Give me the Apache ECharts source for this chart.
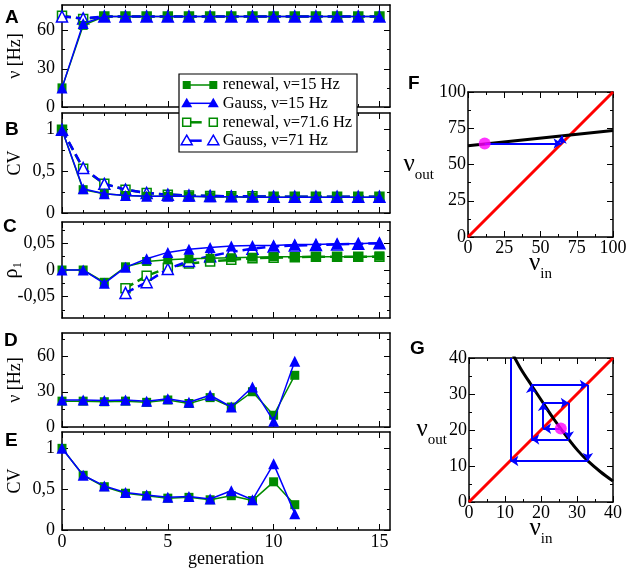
<!DOCTYPE html>
<html><head><meta charset="utf-8">
<script src="https://cdn.jsdelivr.net/npm/echarts@6/dist/echarts.min.js"></script>
<style>html,body{margin:0;padding:0;background:#fff}#c{width:630px;height:571px}</style>
</head><body><div id="c"></div>
<script>
// ---------------- data ----------------
const generations = [0,1,2,3,4,5,6,7,8,9,10,11,12,13,14,15];
const generationsShort = [0,1,2,3,4,5,6,7,8,9,10,11];

// Panel A: rate [Hz]
const rateRenewal15 = [15, 64, 71, 71, 71, 71, 71, 71, 71, 71, 71, 71, 71, 71, 71, 71];
const rateGauss15   = [15, 65.5, 71, 71, 71, 71, 71, 71, 71, 71, 71, 71, 71, 71, 71, 71];
const rateRenewal71 = [71.6, 69, 71, 71, 71, 71, 71, 71, 71, 71, 71, 71, 71, 71, 71, 71];
const rateGauss71   = [71, 69.5, 71, 71, 71, 71, 71, 71, 71, 71, 71, 71, 71, 71, 71, 71];

// Panel B: CV
const cvRenewal15 = [1, 0.28, 0.23, 0.21, 0.2, 0.2, 0.2, 0.195, 0.195, 0.19, 0.19, 0.19, 0.19, 0.19, 0.19, 0.19];
const cvGauss15   = [1, 0.29, 0.23, 0.21, 0.2, 0.2, 0.2, 0.195, 0.195, 0.19, 0.19, 0.19, 0.19, 0.19, 0.19, 0.19];
const cvRenewal71 = [1, 0.53, 0.35, 0.28, 0.24, 0.22, 0.21, 0.205, 0.2, 0.2, 0.195, 0.195, 0.195, 0.195, 0.195, 0.195];
const cvGauss71   = [1, 0.54, 0.35, 0.28, 0.24, 0.22, 0.21, 0.205, 0.2, 0.2, 0.195, 0.195, 0.195, 0.195, 0.195, 0.195];

// Panel C: rho_1
const rhoRenewal15 = [0, 0, -0.023, 0.006, 0.016, 0.019, 0.021, 0.022, 0.023, 0.024, 0.025, 0.025, 0.025, 0.025, 0.025, 0.026];
const rhoGauss15   = [0, 0, -0.025, 0.005, 0.021, 0.033, 0.039, 0.042, 0.045, 0.046, 0.046, 0.048, 0.048, 0.049, 0.049, 0.051];
const rhoRenewal71 = [null, null, null, -0.034, -0.011, 0.004, 0.012, 0.016, 0.019, 0.022, 0.023, 0.024, 0.025, 0.025, 0.025, 0.025];
const rhoGauss71   = [null, null, null, -0.043, -0.023, 0.002, 0.017, 0.026, 0.034, 0.04, 0.044, 0.046, 0.047, 0.048, 0.049, 0.05];

// Panel D: rate [Hz]
const rateDRenewal = [22, 22, 21.5, 22, 21, 23, 20, 25, 17, 30, 10, 44];
const rateDGauss   = [23, 23, 22.5, 23, 22, 24, 21, 27, 17, 34, 5, 56];

// Panel E: CV
const cvERenewal = [1, 0.67, 0.53, 0.45, 0.42, 0.39, 0.4, 0.37, 0.42, 0.36, 0.59, 0.31];
const cvEGauss   = [1, 0.67, 0.54, 0.46, 0.43, 0.4, 0.41, 0.38, 0.48, 0.37, 0.81, 0.2];

// Panel F: map nu_out(nu_in)
const diagF = [[0, 0], [100, 100]];
const transferF = [[0, 63], [100, 73.5]];
const cobwebF = [[11.5, 64.5], [64.5, 64.5], [64.5, 69.8]];
const startF = [11.5, 64.5];

// Panel G
const diagG = [[0, 0], [40, 40]];
const transferG = [[12.2, 41], [14.5, 36.8], [17.3, 32.5], [20.6, 27.5], [23.3, 23.4], [27.7, 17.4], [30.3, 14.2], [33, 11.4], [36.5, 8.4], [40, 5.8]];
const cobwebG = [[25.5, 20.4], [20.6, 20.4], [20.6, 27.5], [27.7, 27.5], [27.7, 17.4], [17.3, 17.4], [17.3, 32.5], [33, 32.5], [33, 11.4], [11.5, 11.4]];
const cobwebGTail = [[11.5, 11.4], [11.5, 40]];
const startG = [25.5, 20.4];

// tick values
const genTicks = [0, 5, 10, 15];
const genMinorTicks = [1,2,3,4,6,7,8,9,11,12,13,14];
const rateTicks = [0, 30, 60];
const rateMinorTicks = [15, 45, 75];
const cvTicks = [0, 0.5, 1];
const cvMinorTicks = [0.25, 0.75];
const rhoTicks = [-0.05, 0, 0.05];
const rhoMinorTicks = [-0.075, -0.025, 0.025, 0.075];
const fTicks = [0, 25, 50, 75, 100];
const fMinorTicks = [12.5, 37.5, 62.5, 87.5];
const gTicks = [0, 10, 20, 30, 40];
const gMinorTicks = [5, 15, 25, 35];

// ---------------- styling / layout ----------------
const FONT = '"Liberation Serif", "Times New Roman", serif';
const SANS = '"Liberation Sans", Arial, sans-serif';
const GREEN = '#008b00', BLUE = '#0000ff', RED = '#ff0000', MAG = '#ff00ff';
const comma = v => String(v).replace('.', ',');

const grid = [], xAxis = [], yAxis = [], series = [];

function axisDef(g, pos, c, major, primary) {
  const a = {
    type: 'value', gridIndex: g, position: pos, min: c.min, max: c.max,
    axisLine: {show: major, onZero: false, lineStyle: {color: '#000', width: 1.5}},
    axisTick: {show: true, inside: true, length: major ? 6 : 3,
      customValues: major ? c.major : c.minor, lineStyle: {color: '#000', width: 1}},
    axisLabel: {show: !!(primary && c.labels), customValues: c.major,
      formatter: comma, fontFamily: FONT, fontSize: 18, color: '#000', margin: c.margin != null ? c.margin : 7},
    splitLine: {show: false}
  };
  if (primary && c.name) {
    a.name = c.name;
    a.nameLocation = 'middle';
    a.nameGap = c.nameGap;
    a.nameMoveOverlap = false;
    if (c.nameRotate != null) a.nameRotate = c.nameRotate;
    a.nameTextStyle = Object.assign({fontFamily: FONT, fontSize: 18, color: '#000'}, c.nameStyle || {});
  }
  return a;
}
function addPanel(rect, xc, yc) {
  const g = grid.length;
  grid.push(Object.assign({show: false, containLabel: false, outerBoundsMode: 'none'}, rect));
  const xi = xAxis.length, yi = yAxis.length;
  ['bottom', 'top'].forEach((p, k) => { xAxis.push(axisDef(g, p, xc, true, k === 0)); xAxis.push(axisDef(g, p, xc, false, false)); });
  ['left', 'right'].forEach((p, k) => { yAxis.push(axisDef(g, p, yc, true, k === 0)); yAxis.push(axisDef(g, p, yc, false, false)); });
  return {xi, yi};
}
const pairs = (xs, ys) => xs.map((x, i) => [x, ys[i]]).filter(p => p[1] != null);

function lineSeries(ax, xs, ys, kind, z) {
  const color = kind.green ? GREEN : BLUE;
  return {
    type: 'line', xAxisIndex: ax.xi, yAxisIndex: ax.yi, data: pairs(xs, ys),
    symbol: kind.green ? 'rect' : 'triangle', symbolSize: kind.green ? 9 : 11,
    showSymbol: true, z: z,
    lineStyle: {color: color, width: kind.open ? 2.5 : 1.5, type: kind.open ? [9, 5] : 'solid'},
    itemStyle: kind.open ? {color: '#fff', borderColor: color, borderWidth: 1.5} : {color: color, borderWidth: 0},
    emphasis: {disabled: true}, animation: false
  };
}
const K = {
  r15: {green: true, open: false}, g15: {green: false, open: false},
  r71: {green: true, open: true}, g71: {green: false, open: true}
};

const xGen = {min: 0, max: 15.5, major: genTicks, minor: genMinorTicks};
const xGenLab = Object.assign({}, xGen, {labels: true, margin: 3, name: 'generation', nameGap: 20});

const nuHz = 'ν [Hz]';
const pA = addPanel({left: 62, top: 5, width: 328, height: 102}, xGen,
  {min: 0, max: 80, major: rateTicks, minor: rateMinorTicks, labels: true, name: nuHz, nameGap: 38});
const pB = addPanel({left: 62, top: 113, width: 328, height: 100}, xGen,
  {min: 0, max: 1.2, major: cvTicks, minor: cvMinorTicks, labels: true, name: 'CV', nameGap: 38});
const pC = addPanel({left: 62, top: 222, width: 328, height: 96}, xGen,
  {min: -0.09, max: 0.09, major: rhoTicks, minor: rhoMinorTicks, labels: true, name: 'ρ₁', nameGap: 40,
   nameStyle: {fontSize: 20}});
const pD = addPanel({left: 62, top: 333, width: 328, height: 94}, xGen,
  {min: 0, max: 80, major: rateTicks, minor: rateMinorTicks, labels: true, name: nuHz, nameGap: 38});
const pE = addPanel({left: 62, top: 432, width: 328, height: 98}, xGenLab,
  {min: 0, max: 1.2, major: cvTicks, minor: cvMinorTicks, labels: true, name: 'CV', nameGap: 38});

const subRich = {
  v: {fontFamily: FONT, fontSize: 25, lineHeight: 26, verticalAlign: 'top'},
  s: {fontFamily: FONT, fontSize: 15, lineHeight: 15, verticalAlign: 'top', padding: [16, 0, 0, 0]}
};
const pF = addPanel({left: 468, top: 92, width: 145, height: 145},
  {min: 0, max: 100, major: fTicks, minor: fMinorTicks, labels: true, margin: 2, name: '{v|ν}{s|in}', nameGap: 14, nameStyle: {rich: subRich}},
  {min: 0, max: 100, major: fTicks, minor: fMinorTicks, labels: true, margin: 2, name: '{v|ν}{s|out}', nameGap: 34, nameRotate: 0, nameStyle: {rich: subRich}});
const pG = addPanel({left: 469, top: 358, width: 144, height: 144},
  {min: 0, max: 40, major: gTicks, minor: gMinorTicks, labels: true, margin: 2, name: '{v|ν}{s|in}', nameGap: 14, nameStyle: {rich: subRich}},
  {min: 0, max: 40, major: gTicks, minor: gMinorTicks, labels: true, margin: 2, name: '{v|ν}{s|out}', nameGap: 22, nameRotate: 0, nameStyle: {rich: subRich}});

// left panels series (open series drawn below filled ones)
[[pA, rateRenewal15, rateGauss15, rateRenewal71, rateGauss71],
 [pB, cvRenewal15, cvGauss15, cvRenewal71, cvGauss71],
 [pC, rhoRenewal15, rhoGauss15, rhoRenewal71, rhoGauss71]].forEach(([p, r15, g15, r71, g71]) => {
  series.push(lineSeries(p, generations, r15, K.r15, 4));
  series.push(lineSeries(p, generations, g15, K.g15, 5));
  series.push(lineSeries(p, generations, r71, K.r71, 2));
  series.push(lineSeries(p, generations, g71, K.g71, 3));
});
series.push(lineSeries(pD, generationsShort, rateDRenewal, K.r15, 2));
series.push(lineSeries(pD, generationsShort, rateDGauss, K.g15, 3));
series.push(lineSeries(pE, generationsShort, cvERenewal, K.r15, 2));
series.push(lineSeries(pE, generationsShort, cvEGauss, K.g15, 3));

function mapSeries(p, diag, transfer, smooth, cob, tail, start) {
  const segs = [];
  for (let i = 0; i < cob.length - 1; i++) segs.push({coords: [cob[i], cob[i + 1]]});
  series.push({type: 'line', xAxisIndex: p.xi, yAxisIndex: p.yi, data: diag, symbol: 'none', z: 2,
    lineStyle: {color: RED, width: 3}, animation: false});
  series.push({type: 'line', xAxisIndex: p.xi, yAxisIndex: p.yi, data: transfer, symbol: 'none', z: 3, smooth: smooth,
    lineStyle: {color: '#000', width: 3}, animation: false});
  series.push({type: 'lines', coordinateSystem: 'cartesian2d', xAxisIndex: p.xi, yAxisIndex: p.yi, z: 4,
    symbol: ['none', 'arrow'], symbolSize: 8, lineStyle: {color: BLUE, width: 2, opacity: 1}, data: segs, animation: false});
  if (tail) series.push({type: 'lines', coordinateSystem: 'cartesian2d', xAxisIndex: p.xi, yAxisIndex: p.yi, z: 4,
    symbol: ['none', 'none'], lineStyle: {color: BLUE, width: 2, opacity: 1}, data: [{coords: tail}], animation: false});
  series.push({type: 'scatter', xAxisIndex: p.xi, yAxisIndex: p.yi, data: [start], symbolSize: 12, z: 6,
    itemStyle: {color: MAG}, animation: false});
}
mapSeries(pF, diagF, transferF, false, cobwebF, null, startF);
mapSeries(pG, diagG, transferG, 0.35, cobwebG, cobwebGTail, startG);

// ---------------- legend (graphic) ----------------
const legendItems = [
  {label: 'renewal, ν=15 Hz', green: true, open: false},
  {label: 'Gauss, ν=15 Hz', green: false, open: false},
  {label: 'renewal, ν=71.6 Hz', green: true, open: true},
  {label: 'Gauss, ν=71 Hz', green: false, open: true}
];
const LX = 179, LY = 74, rowY = [11, 29.3, 48.3, 66.7];
const graphic = [{type: 'rect', shape: {x: LX, y: LY, width: 178, height: 78}, style: {fill: '#fff', stroke: '#000', lineWidth: 1.2}, z: 100}];
legendItems.forEach((it, i) => {
  const y = LY + rowY[i], c = it.green ? GREEN : BLUE;
  const x1 = LX + 7.7, x2 = LX + 34.3;
  graphic.push({type: 'line', shape: {x1: x1, y1: y, x2: it.open ? x1 + 15 : x2, y2: y},
    style: {stroke: c, lineWidth: it.open ? 2.5 : 1.5}, z: 101});
  [x1, x2].forEach(x => {
    const st = it.open ? {fill: '#fff', stroke: c, lineWidth: 1.5} : {fill: c};
    if (it.green) graphic.push({type: 'rect', shape: {x: x - 4, y: y - 4, width: 8, height: 8}, style: st, z: 102});
    else graphic.push({type: 'polygon', shape: {points: [[x, y - 5.5], [x + 5.5, y + 4], [x - 5.5, y + 4]]}, style: st, z: 102});
  });
  graphic.push({type: 'text', x: LX + 43.7, y: y, style: {text: it.label, font: '16.5px ' + FONT, fill: '#000', verticalAlign: 'middle'}, z: 103});
});
// panel letters
[['A', 5, 8], ['B', 5, 120], ['C', 3, 217], ['D', 4, 331], ['E', 5, 431], ['F', 408, 74], ['G', 410, 339]].forEach(([t, x, y]) => {
  graphic.push({type: 'text', x: x, y: y, style: {text: t, font: 'bold 19px ' + SANS, fill: '#000'}, z: 103});
});

const chart = echarts.init(document.getElementById('c'), null, {renderer: 'canvas'});
chart.setOption({animation: false, grid, xAxis, yAxis, series, graphic});
</script></body></html>
